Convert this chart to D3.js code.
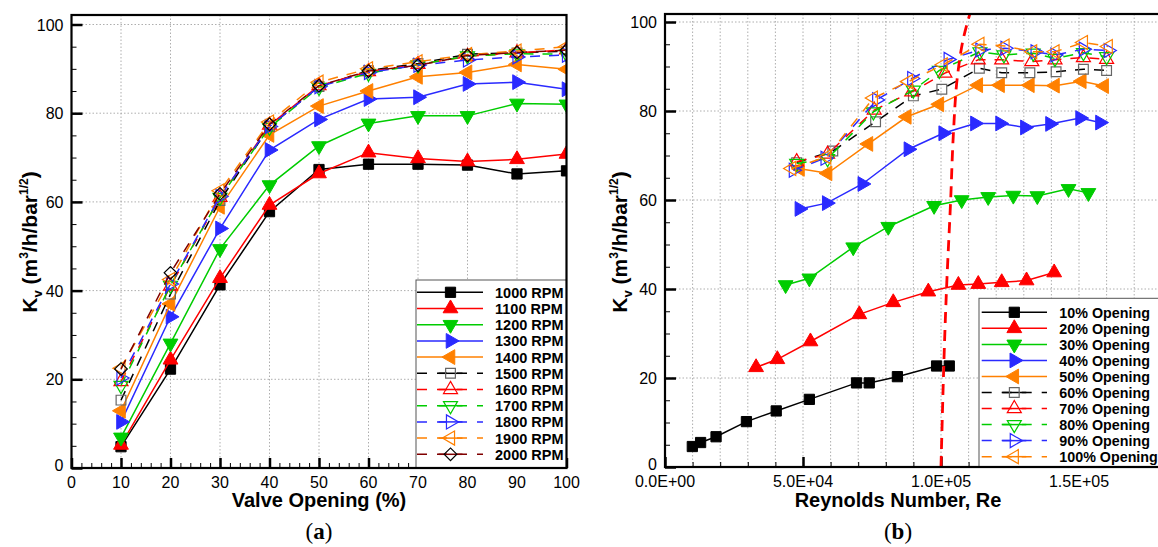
<!DOCTYPE html>
<html>
<head>
<meta charset="utf-8">
<script src="https://cdn.jsdelivr.net/npm/d3@7"></script>
<style>
  body { margin: 0; background: #fff; }
  text { font-family: "Liberation Sans", Arial, sans-serif; }
</style>
</head>
<body>
<svg id="chart" width="1158" height="547"></svg>
<script>
// ---- data: panel (a) ----
var openings = [10, 20, 30, 40, 50, 60, 70, 80, 90, 100];
var rpm1000 = [4.8, 22.3, 41.3, 57.8, 67.3, 68.5, 68.5, 68.3, 66.3, 67.0];
var rpm1100 = [5.2, 24.4, 42.8, 59.3, 66.4, 71.1, 69.8, 69.1, 69.6, 70.8];
var rpm1200 = [6.9, 28.1, 49.4, 63.8, 72.6, 77.7, 79.4, 79.4, 82.2, 82.0];
var rpm1300 = [10.4, 34.1, 54.0, 71.7, 78.6, 83.2, 83.6, 86.6, 87.0, 85.4];
var rpm1400 = [12.9, 37.0, 58.9, 75.1, 81.6, 85.0, 88.2, 89.2, 91.0, 89.9];
var rpm1500 = [15.3, 39.2, 60.3, 77.0, 86.0, 89.6, 91.2, 93.3, 93.6, 94.0];
var rpm1600 = [19.5, 41.0, 61.0, 77.3, 86.2, 89.4, 91.0, 92.8, 93.6, 94.3];
var rpm1700 = [18.6, 41.2, 61.0, 76.8, 85.8, 89.0, 90.9, 92.9, 93.4, 93.3];
var rpm1800 = [20.3, 41.5, 61.2, 77.0, 86.0, 89.2, 90.8, 92.0, 92.7, 93.1];
var rpm1900 = [22.5, 42.5, 62.5, 78.0, 87.0, 90.0, 91.6, 93.2, 94.0, 95.0];
var rpm2000 = [22.3, 44.0, 61.8, 77.5, 86.2, 89.5, 90.8, 93.0, 93.7, 94.2];
var rpmLabels = ["1000 RPM", "1100 RPM", "1200 RPM", "1300 RPM", "1400 RPM", "1500 RPM",
                 "1600 RPM", "1700 RPM", "1800 RPM", "1900 RPM", "2000 RPM"];

// ---- data: panel (b) ----
var re10 = [0.99e4, 1.29e4, 1.85e4, 2.95e4, 4.03e4, 5.23e4, 6.94e4, 7.40e4, 8.42e4, 9.84e4, 1.03e5];
var kv10 = [4.6, 5.5, 6.8, 10.2, 12.6, 15.2, 18.9, 18.9, 20.3, 22.7, 22.7];
var re20 = [3.30e4, 4.07e4, 5.27e4, 7.04e4, 8.27e4, 9.54e4, 1.063e5, 1.135e5, 1.22e5, 1.31e5, 1.41e5];
var kv20 = [22.4, 24.2, 28.2, 34.3, 37.0, 39.4, 40.9, 41.1, 41.5, 41.9, 43.7];
var re30 = [4.37e4, 5.23e4, 6.82e4, 8.09e4, 9.75e4, 1.075e5, 1.171e5, 1.262e5, 1.349e5, 1.462e5, 1.534e5];
var kv30 = [40.9, 42.4, 49.4, 54.0, 58.7, 60.0, 60.7, 61.0, 60.9, 62.5, 61.6];
var re40 = [4.87e4, 5.86e4, 7.15e4, 8.82e4, 1.008e5, 1.123e5, 1.214e5, 1.304e5, 1.395e5, 1.504e5, 1.576e5];
var kv40 = [58.0, 59.3, 63.6, 71.4, 75.0, 77.2, 77.2, 76.3, 77.1, 78.4, 77.4];
var re50 = [4.89e4, 5.89e4, 7.37e4, 8.76e4, 9.94e4, 1.135e5, 1.214e5, 1.322e5, 1.413e5, 1.51e5, 1.591e5];
var kv50 = [67.0, 66.0, 72.6, 78.7, 81.5, 85.8, 85.8, 85.8, 85.7, 86.7, 85.6];
var re60 = [4.77e4, 6.08e4, 7.63e4, 9.0e4, 1.003e5, 1.139e5, 1.22e5, 1.322e5, 1.417e5, 1.516e5, 1.60e5];
var kv60 = [68.4, 71.0, 77.6, 83.4, 84.9, 89.6, 88.6, 88.6, 88.8, 89.4, 89.1];
var re70 = [4.77e4, 5.89e4, 7.58e4, 8.94e4, 1.014e5, 1.135e5, 1.22e5, 1.329e5, 1.413e5, 1.516e5, 1.60e5];
var kv70 = [68.6, 70.3, 80.2, 84.3, 88.5, 91.5, 91.5, 91.1, 91.5, 92.0, 91.6];
var re80 = [4.77e4, 5.89e4, 7.55e4, 9.0e4, 9.94e4, 1.141e5, 1.228e5, 1.334e5, 1.413e5, 1.516e5, 1.60e5];
var kv80 = [68.2, 69.3, 79.8, 84.7, 89.1, 93.3, 92.6, 93.0, 91.8, 93.1, 92.2];
var re90 = [4.65e4, 5.8e4, 7.67e4, 8.94e4, 1.026e5, 1.141e5, 1.232e5, 1.341e5, 1.413e5, 1.516e5, 1.606e5];
var kv90 = [66.7, 69.4, 82.5, 87.3, 91.6, 93.7, 94.1, 93.3, 92.6, 93.9, 93.6];
var re100 = [4.59e4, 5.86e4, 7.55e4, 8.82e4, 1.008e5, 1.141e5, 1.232e5, 1.332e5, 1.413e5, 1.516e5, 1.606e5];
var kv100 = [67.1, 69.7, 82.9, 86.6, 90.4, 95.0, 94.6, 93.3, 93.3, 95.4, 94.5];
var openLabels = ["10% Opening", "20% Opening", "30% Opening", "40% Opening", "50% Opening",
                  "60% Opening", "70% Opening", "80% Opening", "90% Opening", "100% Opening"];
// transition line (dashed red)
var transRe = [1.0e5, 1.02e5, 1.035e5, 1.045e5, 1.06e5, 1.08e5, 1.11e5];
var transKv = [0, 40, 60, 75, 88, 96, 103];

// ---- styles ----
var styles = [
  {color: "#000000", shape: "square", fill: true, dash: null},
  {color: "#ff0000", shape: "up", fill: true, dash: null},
  {color: "#00cc00", shape: "down", fill: true, dash: null},
  {color: "#2a2aff", shape: "right", fill: true, dash: null},
  {color: "#ff8000", shape: "left", fill: true, dash: null},
  {color: "#000000", shape: "square", fill: false, dash: "10,9", mark: "#666"},
  {color: "#ff0000", shape: "up", fill: false, dash: "10,9"},
  {color: "#00cc00", shape: "down", fill: false, dash: "10,9"},
  {color: "#2a2aff", shape: "right", fill: false, dash: "10,9"},
  {color: "#ff8000", shape: "left", fill: false, dash: "10,9"},
  {color: "#800000", shape: "diamond", fill: false, dash: "10,9", mark: "#000"}
];

var svg = d3.select("#chart");
svg.append("rect").attr("width", 1158).attr("height", 547).attr("fill", "#fff");

function markerPath(shape, filled) {
  var sym, size, rot = 0;
  if (shape === "square") { sym = d3.symbolSquare; size = filled ? 105 : 95; }
  else if (shape === "diamond") { sym = d3.symbolSquare; size = 80; rot = 45; }
  else {
    sym = d3.symbolTriangle; size = filled ? 95 : 85;
    rot = {up: 0, down: 180, right: 90, left: -90}[shape];
  }
  return {d: d3.symbol().type(sym).size(size)(), rot: rot};
}

function drawMarker(g, x, y, st) {
  var m = markerPath(st.shape, st.fill);
  var c = st.mark || st.color;
  g.append("path")
    .attr("d", m.d)
    .attr("transform", "translate(" + x + "," + y + ") rotate(" + m.rot + ")")
    .attr("fill", st.fill ? c : "none")
    .attr("stroke", c)
    .attr("stroke-width", st.fill ? 1 : 1.2);
}

function sci(v) {
  if (v === 0) return "0.0E+00";
  var e = Math.floor(Math.log10(v));
  var m = v / Math.pow(10, e);
  return m.toFixed(1) + "E+" + (e < 10 ? "0" + e : e);
}

function yLabel(x) {
  var t = svg.append("text")
    .attr("transform", "translate(" + x + ",242) rotate(-90)")
    .attr("text-anchor", "middle")
    .attr("font-size", 21).attr("font-weight", "bold");
  t.append("tspan").text("K");
  t.append("tspan").attr("font-size", 13).attr("dy", 5).text("v");
  t.append("tspan").attr("dy", -5).text(" (m");
  t.append("tspan").attr("font-size", 12).attr("dy", -9).text("3");
  t.append("tspan").attr("dy", 9).text("/h/bar");
  t.append("tspan").attr("font-size", 12).attr("dy", -9).text("1/2");
  t.append("tspan").attr("dy", 9).text(")");
}

function panel(opt) {
  var x = opt.x, y = opt.y;
  var g = svg.append("g");
  var x0 = x.range()[0], x1 = opt.frameRight, yb = y(0), yt = opt.frameTop;
  var clipId = "clip" + opt.id;
  svg.append("clipPath").attr("id", clipId).append("rect")
    .attr("x", x0).attr("y", yt).attr("width", x1 - x0).attr("height", yb - yt);

  // grid
  var grid = g.append("g").attr("stroke", "#999").attr("stroke-width", 0.8).attr("stroke-dasharray", "1.5,2");
  opt.xGrid.forEach(function(v) {
    grid.append("line").attr("x1", x(v)).attr("x2", x(v)).attr("y1", yb).attr("y2", yt);
  });
  d3.range(20, 101, 20).forEach(function(v) {
    grid.append("line").attr("x1", x0).attr("x2", x1).attr("y1", y(v)).attr("y2", y(v));
  });

  // axes (ticks inward)
  var ax = d3.axisTop(x).tickValues(opt.xMajor).tickSize(10).tickFormat("");
  g.append("g").attr("transform", "translate(0," + yb + ")").call(ax)
    .call(function(s) { s.select(".domain").remove(); s.selectAll("line").attr("stroke-width", 2.5); });
  var axm = d3.axisTop(x).tickValues(opt.xMinor).tickSize(5).tickFormat("");
  g.append("g").attr("transform", "translate(0," + yb + ")").call(axm)
    .call(function(s) { s.select(".domain").remove(); });
  var ay = d3.axisRight(y).tickValues(d3.range(0, 101, 20)).tickSize(11).tickFormat("");
  g.append("g").attr("transform", "translate(" + x0 + ",0)").call(ay)
    .call(function(s) { s.select(".domain").remove(); s.selectAll("line").attr("stroke-width", 2.5); });
  var aym = d3.axisRight(y).tickValues(d3.range(5, 101, 5).filter(function(v) { return v % 20; })).tickSize(5).tickFormat("");
  g.append("g").attr("transform", "translate(" + x0 + ",0)").call(aym)
    .call(function(s) { s.select(".domain").remove(); });

  // tick labels
  opt.xMajor.forEach(function(v) {
    g.append("text").attr("x", x(v)).attr("y", yb + 20).attr("text-anchor", "middle")
      .attr("font-size", 16).text(opt.xFmt(v));
  });
  d3.range(0, 101, 20).forEach(function(v) {
    g.append("text").attr("x", x0 - 8).attr("y", y(v) + (v === 0 ? 3 : 6)).attr("text-anchor", "end")
      .attr("font-size", 16).text(v);
  });

  // series
  var plot = g.append("g").attr("clip-path", "url(#" + clipId + ")");
  var line = d3.line().x(function(d) { return x(d[0]); }).y(function(d) { return y(d[1]); });
  opt.series.forEach(function(s, i) {
    var st = styles[i];
    plot.append("path").attr("d", line(s)).attr("fill", "none")
      .attr("stroke", st.color).attr("stroke-width", 1.5)
      .attr("stroke-dasharray", st.dash);
    s.forEach(function(d) { drawMarker(plot, x(d[0]), y(d[1]), st); });
  });
  if (opt.after) opt.after(plot);

  // legend
  var L = opt.legend;
  var lg = g.append("g");
  lg.append("rect").attr("x", L.x).attr("y", L.y).attr("width", L.w).attr("height", yb - L.y)
    .attr("fill", "#fff").attr("stroke", "#555").attr("stroke-width", 1);
  L.labels.forEach(function(lab, i) {
    var st = styles[i], ry = L.row0 + i * L.step;
    lg.append("line").attr("x1", L.lx0).attr("x2", L.lx1).attr("y1", ry).attr("y2", ry)
      .attr("stroke", st.color).attr("stroke-width", 1.5)
      .attr("stroke-dasharray", st.dash ? "10,10" : null);
    if (st.dash) {
      lg.append("line").attr("x1", L.mx - 12).attr("x2", L.mx + 12).attr("y1", ry).attr("y2", ry)
        .attr("stroke", st.color).attr("stroke-width", 1.5);
    }
    drawMarker(lg, L.mx, ry, st);
    lg.append("text").attr("x", L.tx).attr("y", ry + 5.5).attr("font-size", L.fs)
      .attr("font-weight", "bold").text(lab);
  });

  // frame
  g.append("rect").attr("x", x0).attr("y", yt).attr("width", x1 - x0).attr("height", yb - yt)
    .attr("fill", "none").attr("stroke", "#000").attr("stroke-width", 2.2);

  // titles
  svg.append("text").attr("x", opt.titleX).attr("y", 507).attr("text-anchor", "middle")
    .attr("font-size", 20).attr("font-weight", "bold").text(opt.title);
  var cap = svg.append("text").attr("x", opt.titleX).attr("y", 539).attr("text-anchor", "middle")
    .attr("font-size", 23).style("font-family", "'Liberation Serif', serif");
  cap.append("tspan").text("(");
  cap.append("tspan").attr("font-weight", "bold").text(opt.cap);
  cap.append("tspan").text(")");
  yLabel(opt.yLabelX);
}

// panel (a)
var xa = d3.scaleLinear().domain([0, 100]).range([71.5, 566.5]);
var ya = d3.scaleLinear().domain([0, 100]).range([468, 24.5]);
var rpmSeries = [rpm1000, rpm1100, rpm1200, rpm1300, rpm1400, rpm1500,
                 rpm1600, rpm1700, rpm1800, rpm1900, rpm2000].map(function(arr) {
  return openings.map(function(o, j) { return [o, arr[j]]; });
});
panel({
  id: "a", x: xa, y: ya, frameRight: 566.5, frameTop: 15,
  xGrid: d3.range(10, 100, 10), xMajor: d3.range(0, 101, 10),
  xMinor: d3.range(0, 101, 2).filter(function(v) { return v % 10; }),
  xFmt: function(v) { return v; },
  series: rpmSeries,
  legend: {x: 416, y: 280, w: 150.5, labels: rpmLabels, row0: 292.3, step: 16.2,
           lx0: 417, lx1: 483, mx: 450.5, tx: 495, fs: 14.5},
  title: "Valve Opening (%)", titleX: 319, cap: "a", yLabelX: 37
});

// panel (b)
var xb = d3.scaleLinear().domain([0, 1.8e5]).range([665, 1161.8]);
var yb = d3.scaleLinear().domain([0, 100]).range([467, 22]);
var openSeries = [[re10, kv10], [re20, kv20], [re30, kv30], [re40, kv40], [re50, kv50],
                  [re60, kv60], [re70, kv70], [re80, kv80], [re90, kv90], [re100, kv100]]
  .map(function(p) { return p[0].map(function(r, j) { return [r, p[1][j]]; }); });
panel({
  id: "b", x: xb, y: yb, frameRight: 1161.8, frameTop: 14,
  xGrid: d3.range(1e4, 1.8e5, 1e4), xMajor: [0, 5e4, 1e5, 1.5e5],
  xMinor: d3.range(1e4, 1.8e5, 1e4).filter(function(v) { return v % 5e4; }),
  xFmt: sci,
  series: openSeries,
  after: function(plot) {
    var tl = d3.line().curve(d3.curveMonotoneY)
      .x(function(d) { return xb(d[0]); }).y(function(d) { return yb(d[1]); });
    plot.append("path").attr("d", tl(transRe.map(function(r, j) { return [r, transKv[j]]; })))
      .attr("fill", "none").attr("stroke", "#ff0000").attr("stroke-width", 2.8)
      .attr("stroke-dasharray", "11,7");
  },
  legend: {x: 979, y: 298.3, w: 200, labels: openLabels, row0: 312.3, step: 16.04,
           lx0: 981.7, lx1: 1047, mx: 1014.3, tx: 1059.3, fs: 14.3},
  title: "Reynolds Number, Re", titleX: 898, cap: "b", yLabelX: 627
});
</script>
</body>
</html>
